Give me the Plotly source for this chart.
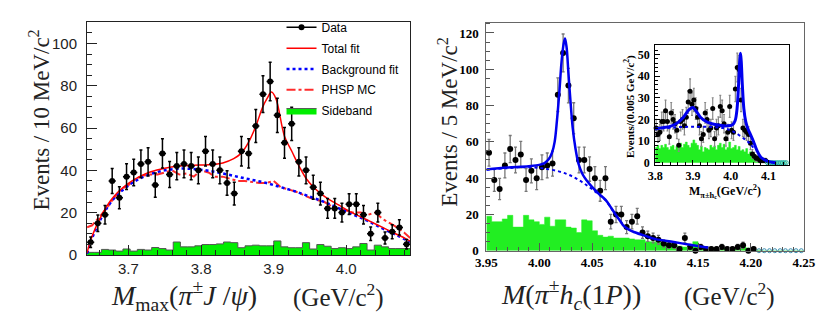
import numpy as np
import plotly.graph_objects as go

# ---------------- Left panel: M_max(pi+- J/psi) ----------------
L_lo, L_hi = 3.643, 4.088
L_counts = [6, 15, 19, 35, 27, 37, 39, 43, 44, 33, 48, 38, 42, 43, 42, 40, 49, 43, 40, 34,
            29, 49, 48, 61, 76, 82, 66, 53, 62, 44, 40, 32, 29, 22, 22, 20, 24, 24, 19, 10,
            20, 8, 11, 13, 5]
L_sideband = [1.2, 1.2, 2.6, 2.3, 1.8, 2.8, 1.8, 2.6, 2.3, 3.5, 3.0, 2.3, 6.1, 3.8, 3.8,
              4.3, 4.9, 4.9, 5.2, 6.1, 5.8, 3.4, 4.3, 4.6, 4.3, 4.3, 6.6, 3.8, 3.4, 3.4,
              5.8, 2.8, 4.9, 4.1, 3.0, 3.4, 3.0, 3.8, 5.4, 2.3, 4.6, 3.8, 3.0, 3.0, 3.0]
L_tot_x = [3.643, 3.648, 3.655, 3.665, 3.675, 3.685, 3.695, 3.705, 3.715, 3.73, 3.75, 3.77,
           3.79, 3.81, 3.83, 3.845, 3.855, 3.865, 3.875, 3.885, 3.891, 3.897, 3.903, 3.915,
           3.925, 3.935, 3.945, 3.955, 3.965, 3.975, 3.99, 4.005, 4.02, 4.035, 4.05, 4.065,
           4.08, 4.088]
L_tot_y = [1, 7, 13, 20, 25.5, 29.5, 32.5, 35, 37, 39.2, 41, 42, 42.4, 42.6, 43.5, 45.5, 48,
           53, 60.5, 70, 74, 77, 74, 56, 49, 42, 36, 32, 29, 26.5, 23.5, 20.5, 18, 15.5, 13,
           10.5, 8, 6.5]
L_bkg_x = [3.643, 3.648, 3.655, 3.665, 3.675, 3.685, 3.695, 3.705, 3.715, 3.73, 3.75, 3.77,
           3.79, 3.81, 3.83, 3.85, 3.87, 3.89, 3.91, 3.93, 3.95, 3.97, 3.99, 4.01, 4.03,
           4.05, 4.07, 4.088]
L_bkg_y = [0.5, 6, 12, 19, 24.5, 28.5, 31.5, 34, 36, 38.2, 40, 40.8, 40.6, 39.8, 38.5, 37,
           35.5, 34, 32, 30, 27.5, 25, 22, 19, 16, 12.5, 9.2, 6.2]
L_phsp_x = [3.643, 3.65, 3.66, 3.67, 3.68, 3.69, 3.70, 3.71, 3.72, 3.73, 3.74, 3.75, 3.76,
            3.77, 3.78, 3.79, 3.80, 3.81, 3.82, 3.83, 3.84, 3.85, 3.86, 3.87, 3.88, 3.89,
            3.90, 3.91, 3.92, 3.93, 3.94, 3.95, 3.96, 3.97, 3.98, 3.99, 4.00, 4.01, 4.02,
            4.03, 4.04, 4.05, 4.06, 4.07, 4.08, 4.088]
L_phsp_y = [13, 14, 18, 22, 27, 31, 33, 36, 37.5, 38, 38, 39, 40, 38, 38.5, 37, 40, 39, 37,
            37, 36, 35, 35, 34.5, 34, 34, 35, 32, 31, 30, 28.5, 27, 26, 25, 23, 22, 21, 20,
            20, 19, 20, 17, 15, 13, 10.5, 8]
L_xticks = [3.7, 3.8, 3.9, 4.0]

# ---------------- Right panel: M(pi+- h_c(1P)) ----------------
R_lo, R_hi = 3.95, 4.25
R_counts = [54, 39, 34, 47, 56, 50, 53, 39, 44, 40, 46, 47, 48, 86, 109, 91, 73, 50, 50, 45,
            40, 33, 40, 16, 20, 20, 13, 16, 19, 10, 8, 7, 6, 4, 3, 3, 1, 7, 2, 0,
            2, 1, 1, 1, 2, 1, 1, 2, 3, 0, 1, 0, 0, 0, 0, 0, 0, 0, 0, 0]
R_sideband = [19, 16, 16, 17.5, 19.5, 13, 13, 19.5, 17, 16, 14.5, 18.5, 13.5, 17, 17, 13,
              12.5, 10, 17, 16.5, 11, 8.5, 7.5, 8, 7, 7, 7, 6.5, 6, 6, 5, 5, 4.5, 4.5, 4,
              3, 2.5, 2, 2.5, 5, 1.5, 1.2, 1.5, 1, 1.2, 1.5, 1, 1.3, 2, 1.5, 0.5, 0.3, 0,
              0, 0, 0, 0, 0, 0, 0]
R_tot_x = [3.95, 3.97, 3.99, 4.0, 4.005, 4.009, 4.012, 4.0145, 4.0167, 4.019, 4.021, 4.023,
           4.0243, 4.0258, 4.0275, 4.0295, 4.0315, 4.034, 4.037, 4.041, 4.045, 4.05, 4.056,
           4.0626, 4.0675, 4.072, 4.077, 4.0795, 4.085, 4.09, 4.1, 4.11, 4.127, 4.145, 4.16]
R_tot_y = [44.8, 45.8, 46.6, 47.3, 48.3, 50.5, 54, 60, 72, 88, 104, 114, 117, 112, 98, 82,
           68, 57, 48, 42, 38.5, 35, 31.5, 28, 24, 20, 16, 13.8, 11.5, 10.2, 8.2, 6.4, 4.8,
           3, 1.6]
R_bkg_x = [3.95, 3.97, 3.986, 4.0, 4.0075, 4.0167, 4.025, 4.032, 4.04, 4.0473, 4.055,
           4.0626, 4.07]
R_bkg_y = [44.6, 45.5, 46, 45.6, 45, 44, 42.5, 40.7, 38, 35, 31.5, 27.8, 21.4]
R_xticks = [3.95, 4.00, 4.05, 4.10, 4.15, 4.20, 4.25]

# ---------------- Inset ----------------
I_lo, I_hi = 3.8, 4.15
I_counts = [16, 13, 14, 19, 19, 24, 19, 12, 23, 20,
            18, 15, 8, 19, 20, 17, 21, 28, 33, 27,
            29, 25, 21, 17, 11, 13, 23, 20, 15, 16,
            25, 11, 16, 17, 26, 24, 18, 11, 14, 26,
            15, 14, 34, 44, 43, 29, 16, 15, 14, 13,
            9, 4, 3, 2, 2, 1, 1, 1, 1, 0,
            0, 0, 0, 0, 0, 0, 0, 0, 0, 0]
I_sideband = [7, 8, 6.5, 8, 7, 8.5, 7, 6, 7.5, 8,
              6, 7.5, 8, 9, 7, 8.5, 9.5, 8, 7, 9,
              10.5, 9, 8, 6, 7.5, 5, 7, 6.5, 6, 8,
              7, 7.5, 6, 8, 9, 7, 8.5, 6, 7, 9.5,
              6.5, 7, 8, 6, 7.5, 5.5, 6, 5, 6.5, 4,
              5, 3.5, 3, 2, 1.5, 1, 0.5, 0.3, 0, 0,
              0, 0, 0, 0, 0, 0, 0, 0, 0, 0]
I_tot_x = [3.8, 3.82, 3.84, 3.86, 3.875, 3.89, 3.9, 3.91, 3.92, 3.935, 3.95, 3.97, 3.99,
           4.005, 4.012, 4.017, 4.021, 4.024, 4.026, 4.028, 4.031, 4.035, 4.04, 4.045, 4.05,
           4.06, 4.07, 4.08, 4.09, 4.1, 4.11, 4.12]
I_tot_y = [15.5, 16.2, 16.8, 18.5, 21, 24.5, 25.5, 23.5, 21, 19, 18, 17.3, 17, 17.5, 19.5,
           25, 36, 47, 50.5, 47, 36, 25, 19, 16, 14, 10, 5.5, 2.5, 1.3, 0.6, 0.2, 0]
I_bkg_x = [3.8, 3.85, 3.9, 3.95, 3.98, 4.0, 4.02, 4.04, 4.05, 4.06]
I_bkg_y = [15.5, 16.3, 16.6, 16.5, 16, 15, 13, 10.5, 9, 7]
I_xticks = [3.8, 3.9, 4.0, 4.1]


def hist_edges(lo, hi, n):
    return np.linspace(lo, hi, n + 1)


def step_xy(edges, vals):
    return list(edges), list(vals) + [vals[-1]]


fig = go.Figure()

# ---------- Left panel traces ----------
Le = hist_edges(L_lo, L_hi, len(L_counts))
Lc = 0.5 * (Le[:-1] + Le[1:])
sx, sy = step_xy(Le, L_sideband)
fig.add_trace(go.Scatter(x=sx, y=sy, mode="lines", line_shape="hv",
                         line=dict(color="#555555", width=1), fill="tozeroy",
                         fillcolor="#00ee00", name="Sideband", legendrank=5, legendgroup="g5",
                         xaxis="x", yaxis="y"))
fig.add_trace(go.Scatter(x=L_phsp_x, y=L_phsp_y, mode="lines",
                         line=dict(color="rgba(255,20,20,0.9)", width=2, dash="dashdot"),
                         name="PHSP MC", legendrank=4, legendgroup="g4", xaxis="x", yaxis="y"))
fig.add_trace(go.Scatter(x=L_bkg_x, y=L_bkg_y, mode="lines", line_shape="spline",
                         line=dict(color="#0000ff", width=2.5, dash="dot"),
                         name="Background fit", legendrank=3, legendgroup="g3",
                         xaxis="x", yaxis="y"))
fig.add_trace(go.Scatter(x=L_tot_x, y=L_tot_y, mode="lines", line_shape="spline",
                         line=dict(color="#ff0000", width=1.5),
                         name="Total fit", legendrank=2, legendgroup="g2", xaxis="x", yaxis="y"))
fig.add_trace(go.Scatter(x=Lc, y=L_counts, mode="markers",
                         marker=dict(color="black", size=6),
                         error_y=dict(type="data", array=np.sqrt(L_counts), color="black",
                                      thickness=1.5, width=1.5),
                         error_x=dict(type="constant", value=(Le[1] - Le[0]) / 2,
                                      color="black", thickness=1.5, width=0),
                         showlegend=False, cliponaxis=False, xaxis="x", yaxis="y"))
fig.add_trace(go.Scatter(x=[None], y=[None], mode="lines+markers",
                         marker=dict(color="black", size=6),
                         line=dict(color="black", width=1.5),
                         name="Data", legendrank=1, legendgroup="g1", xaxis="x", yaxis="y"))

# ---------- Right panel traces ----------
Re = hist_edges(R_lo, R_hi, len(R_counts))
Rc = 0.5 * (Re[:-1] + Re[1:])
sx, sy = step_xy(Re, R_sideband)
fig.add_trace(go.Scatter(x=sx, y=sy, mode="lines", line_shape="hv",
                         line=dict(color="#22ee22", width=0.5), fill="tozeroy",
                         fillcolor="#22ee22", showlegend=False, xaxis="x2", yaxis="y2"))
R_cnt = np.array(R_counts, dtype=float)
nz_last = int(np.max(np.nonzero(R_cnt)))
fig.add_trace(go.Scatter(x=Rc[:nz_last + 1], y=R_cnt[:nz_last + 1], mode="markers",
                         marker=dict(color="black", size=6),
                         error_y=dict(type="data", array=np.sqrt(R_cnt[:nz_last + 1]),
                                      color="#777777", thickness=1.3, width=1.5),
                         showlegend=False, cliponaxis=False, xaxis="x2", yaxis="y2"))
fig.add_trace(go.Scatter(x=Rc[nz_last + 1:], y=R_cnt[nz_last + 1:], mode="markers",
                         marker=dict(color="#3a8fb0", size=4, symbol="circle-open",
                                     line=dict(width=1)),
                         showlegend=False, cliponaxis=False, xaxis="x2", yaxis="y2"))
fig.add_trace(go.Scatter(x=R_bkg_x, y=R_bkg_y, mode="lines", line_shape="spline",
                         line=dict(color="#0000ee", width=2, dash="dot"),
                         showlegend=False, xaxis="x2", yaxis="y2"))
fig.add_trace(go.Scatter(x=R_tot_x, y=R_tot_y, mode="lines", line_shape="spline",
                         line=dict(color="#0000ee", width=2.5),
                         showlegend=False, xaxis="x2", yaxis="y2"))

# ---------- Inset traces ----------
Ie = hist_edges(I_lo, I_hi, len(I_counts))
Ic = 0.5 * (Ie[:-1] + Ie[1:])
sx, sy = step_xy(Ie, I_sideband)
fig.add_trace(go.Scatter(x=sx, y=sy, mode="lines", line_shape="hv",
                         line=dict(color="#22ee22", width=0.5), fill="tozeroy",
                         fillcolor="#22ee22", showlegend=False, xaxis="x3", yaxis="y3"))
I_cnt = np.array(I_counts, dtype=float)
inz = int(np.max(np.nonzero(I_cnt)))
fig.add_trace(go.Scatter(x=Ic[:inz + 1], y=I_cnt[:inz + 1], mode="markers",
                         marker=dict(color="black", size=5),
                         error_y=dict(type="data", array=np.sqrt(I_cnt[:inz + 1]),
                                      color="#888888", thickness=1.2, width=1),
                         showlegend=False, cliponaxis=False, xaxis="x3", yaxis="y3"))
fig.add_trace(go.Scatter(x=Ic[inz + 1:], y=I_cnt[inz + 1:], mode="markers",
                         marker=dict(color="#20b0a0", size=4, symbol="circle-open",
                                     line=dict(width=1)),
                         showlegend=False, cliponaxis=False, xaxis="x3", yaxis="y3"))
fig.add_trace(go.Scatter(x=I_bkg_x, y=I_bkg_y, mode="lines", line_shape="spline",
                         line=dict(color="#0000ee", width=2, dash="dot"),
                         showlegend=False, xaxis="x3", yaxis="y3"))
fig.add_trace(go.Scatter(x=I_tot_x, y=I_tot_y, mode="lines", line_shape="spline",
                         line=dict(color="#0000ee", width=3),
                         showlegend=False, xaxis="x3", yaxis="y3"))

W, H = 830, 317


def px_x(p):
    return p / W


def px_y(p):
    return 1 - p / H


sans = "Liberation Sans, Arial, sans-serif"
serif = "Liberation Serif, Times New Roman, serif"

common = dict(showgrid=False, zeroline=False, showline=True, mirror=True, ticks="inside")

fig.update_layout(
    width=W, height=H, margin=dict(l=0, r=0, t=0, b=0),
    paper_bgcolor="white", plot_bgcolor="rgba(0,0,0,0)",
    showlegend=True,
    legend=dict(x=px_x(270), y=px_y(5), xanchor="left", yanchor="top",
                bgcolor="rgba(0,0,0,0)", font=dict(family=sans, size=12, color="black"),
                tracegroupgap=1.8, itemwidth=30, traceorder="grouped"),
    xaxis=dict(domain=[px_x(70), px_x(402.3)], range=[L_lo, L_hi], anchor="y",
               tickvals=L_xticks, tickformat=".1f", ticklen=10, tickcolor="#222",
               linecolor="#222", linewidth=1,
               minor=dict(dtick=0.02, ticklen=5, tickcolor="#222", ticks="inside"),
               tickfont=dict(family=sans, size=15, color="#222"), ticklabelstandoff=0,
               **common),
    yaxis=dict(domain=[px_y(253.3), px_y(14)], range=[0, 110.3], anchor="x",
               dtick=20, ticklen=10, tickcolor="#222", linecolor="#222", linewidth=1,
               minor=dict(dtick=5, ticklen=5, tickcolor="#222", ticks="inside"),
               tickfont=dict(family=sans, size=15, color="#222"), ticklabelstandoff=6,
               **common),
    xaxis2=dict(domain=[px_x(480.7), px_x(807.3)], range=[R_lo, R_hi], anchor="y2",
                tickvals=R_xticks, tickformat=".2f", ticklen=8, tickcolor="#555",
                linecolor="#666", linewidth=1,
                minor=dict(dtick=0.01, ticklen=4, tickcolor="#555", ticks="inside"),
                tickfont=dict(family=serif, size=13, color="black", weight="bold"),
                ticklabelstandoff=0, **common),
    yaxis2=dict(domain=[px_y(249), px_y(15)], range=[0, 125.7], anchor="x2",
                dtick=20, ticklen=8, tickcolor="#555", linecolor="#666", linewidth=1,
                minor=dict(dtick=5, ticklen=4, tickcolor="#555", ticks="inside"),
                tickfont=dict(family=serif, size=13, color="black", weight="bold"),
                ticklabelstandoff=4, **common),
    xaxis3=dict(domain=[px_x(654.3), px_x(791.7)], range=[3.8, 4.154], anchor="y3",
                tickvals=I_xticks, tickformat=".1f", ticklen=5, tickcolor="black",
                linecolor="black", linewidth=1,
                minor=dict(dtick=0.02, ticklen=3, tickcolor="black", ticks="inside"),
                tickfont=dict(family=serif, size=12, color="black", weight="bold"),
                ticklabelstandoff=0, **common),
    yaxis3=dict(domain=[px_y(161), px_y(38.3)], range=[-1.04, 54.2], anchor="x3",
                dtick=10, ticklen=5, tickcolor="black", linecolor="black", linewidth=1,
                minor=dict(dtick=2, ticklen=3, tickcolor="black", ticks="inside"),
                tickfont=dict(family=serif, size=12, color="black", weight="bold"),
                ticklabelstandoff=2, **common),
)

ann = [
    dict(text="Events / 10 MeV/c<sup>2</sup>", x=px_x(21), y=px_y(115), textangle=-90,
         font=dict(family=serif, size=23, color="#222")),
    dict(text="Events / 5 MeV/c<sup>2</sup>", x=px_x(441), y=px_y(117), textangle=-90,
         font=dict(family=serif, size=23, color="#222")),
    dict(text="<i>M</i><sub>max</sub>(<i>π</i><sup>±</sup><i>J</i> /<i>ψ</i>)",
         x=px_x(170), y=px_y(295),
         font=dict(family=serif, size=28, color="#222")),
    dict(text="(GeV/c<sup>2</sup>)", x=px_x(329), y=px_y(295),
         font=dict(family=serif, size=25, color="#222")),
    dict(text="<i>M</i>(<i>π</i><sup>±</sup><i>h</i><sub><i>c</i></sub>(1<i>P</i>))",
         x=px_x(568), y=px_y(294),
         font=dict(family=serif, size=28, color="#222")),
    dict(text="(GeV/c<sup>2</sup>)", x=px_x(731), y=px_y(294),
         font=dict(family=serif, size=25, color="#222")),
    dict(text="<b>Events/(0.005 GeV/c<sup>2</sup>)</b>", x=px_x(628), y=px_y(101),
         textangle=-90, font=dict(family=serif, size=11, color="black")),
    dict(text="<b>M<sub>π±h<sub>c</sub></sub>(GeV/c<sup>2</sup>)</b>", x=px_x(726),
         y=px_y(188), font=dict(family=serif, size=12, color="black")),
]
for a in ann:
    a.setdefault("xanchor", "center")
    a.setdefault("yanchor", "middle")
    fig.add_annotation(xref="paper", yref="paper", showarrow=False, **a)

fig.write_html("out.html")
